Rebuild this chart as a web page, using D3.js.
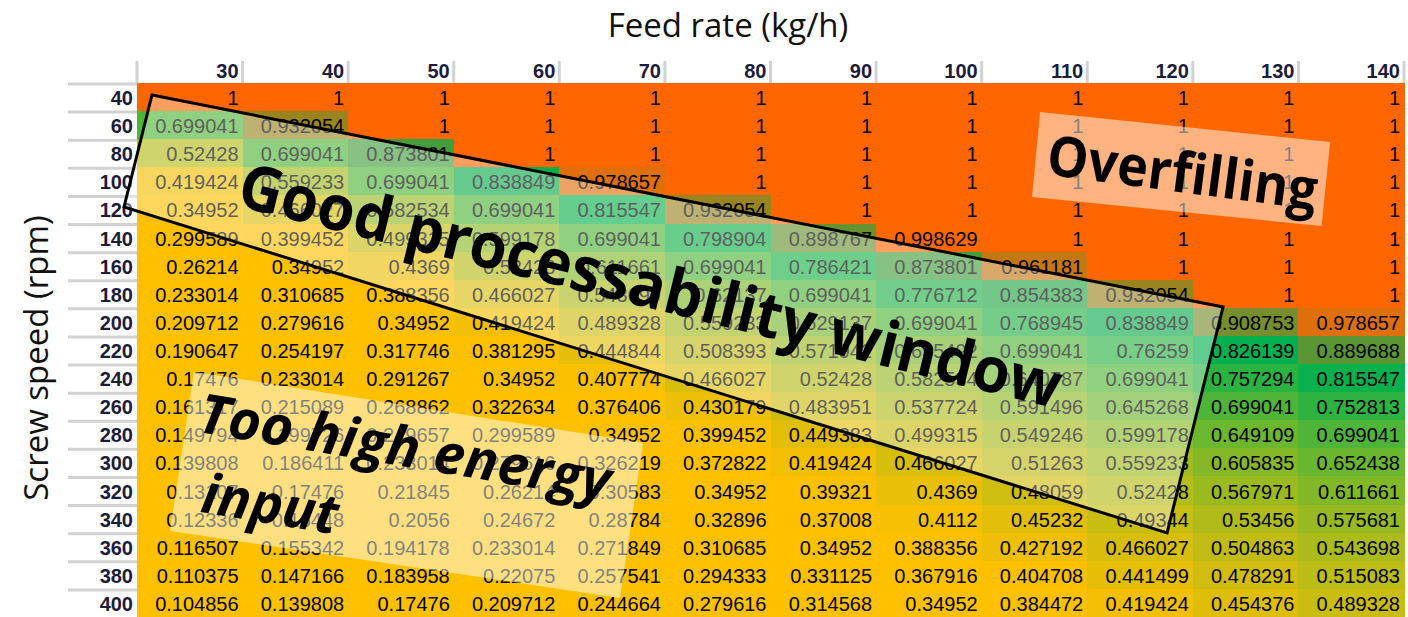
<!DOCTYPE html>
<html>
<head>
<meta charset="utf-8">
<script src="https://cdn.jsdelivr.net/npm/d3@7"></script>
<style>
  body { margin: 0; background: #fff; }
  svg { display: block; }
</style>
</head>
<body>
<div id="heatmap"></div>
<script>

// feed rate (columns) and screw speed (rows)
var feedRates = [30, 40, 50, 60, 70, 80, 90, 100, 110, 120, 130, 140];
var screwSpeeds = [40, 60, 80, 100, 120, 140, 160, 180, 200, 220, 240, 260, 280, 300, 320, 340, 360, 380, 400];

// fill degree per screw speed, one value per feed rate
var rpm40  = [1, 1, 1, 1, 1, 1, 1, 1, 1, 1, 1, 1];
var rpm60  = [0.699041, 0.932054, 1, 1, 1, 1, 1, 1, 1, 1, 1, 1];
var rpm80  = [0.52428, 0.699041, 0.873801, 1, 1, 1, 1, 1, 1, 1, 1, 1];
var rpm100 = [0.419424, 0.559233, 0.699041, 0.838849, 0.978657, 1, 1, 1, 1, 1, 1, 1];
var rpm120 = [0.34952, 0.466027, 0.582534, 0.699041, 0.815547, 0.932054, 1, 1, 1, 1, 1, 1];
var rpm140 = [0.299589, 0.399452, 0.499315, 0.599178, 0.699041, 0.798904, 0.898767, 0.998629, 1, 1, 1, 1];
var rpm160 = [0.26214, 0.34952, 0.4369, 0.52428, 0.611661, 0.699041, 0.786421, 0.873801, 0.961181, 1, 1, 1];
var rpm180 = [0.233014, 0.310685, 0.388356, 0.466027, 0.543699, 0.62137, 0.699041, 0.776712, 0.854383, 0.932054, 1, 1];
var rpm200 = [0.209712, 0.279616, 0.34952, 0.419424, 0.489328, 0.559233, 0.629137, 0.699041, 0.768945, 0.838849, 0.908753, 0.978657];
var rpm220 = [0.190647, 0.254197, 0.317746, 0.381295, 0.444844, 0.508393, 0.571942, 0.635492, 0.699041, 0.76259, 0.826139, 0.889688];
var rpm240 = [0.17476, 0.233014, 0.291267, 0.34952, 0.407774, 0.466027, 0.52428, 0.582534, 0.640787, 0.699041, 0.757294, 0.815547];
var rpm260 = [0.161317, 0.215089, 0.268862, 0.322634, 0.376406, 0.430179, 0.483951, 0.537724, 0.591496, 0.645268, 0.699041, 0.752813];
var rpm280 = [0.149794, 0.199726, 0.249657, 0.299589, 0.34952, 0.399452, 0.449383, 0.499315, 0.549246, 0.599178, 0.649109, 0.699041];
var rpm300 = [0.139808, 0.186411, 0.233014, 0.279616, 0.326219, 0.372822, 0.419424, 0.466027, 0.51263, 0.559233, 0.605835, 0.652438];
var rpm320 = [0.13107, 0.17476, 0.21845, 0.26214, 0.30583, 0.34952, 0.39321, 0.4369, 0.48059, 0.52428, 0.567971, 0.611661];
var rpm340 = [0.12336, 0.16448, 0.2056, 0.24672, 0.28784, 0.32896, 0.37008, 0.4112, 0.45232, 0.49344, 0.53456, 0.575681];
var rpm360 = [0.116507, 0.155342, 0.194178, 0.233014, 0.271849, 0.310685, 0.34952, 0.388356, 0.427192, 0.466027, 0.504863, 0.543698];
var rpm380 = [0.110375, 0.147166, 0.183958, 0.22075, 0.257541, 0.294333, 0.331125, 0.367916, 0.404708, 0.441499, 0.478291, 0.515083];
var rpm400 = [0.104856, 0.139808, 0.17476, 0.209712, 0.244664, 0.279616, 0.314568, 0.34952, 0.384472, 0.419424, 0.454376, 0.489328];

var fillDegree = [rpm40, rpm60, rpm80, rpm100, rpm120, rpm140, rpm160, rpm180, rpm200, rpm220,
                  rpm240, rpm260, rpm280, rpm300, rpm320, rpm340, rpm360, rpm380, rpm400];

// size of the picture and the table area
var width = 1408,
    height = 617,
    table = {top: 83, left: 137, right: 1404, bottom: 617};

var svg = d3.select("#heatmap").append("svg")
    .attr("width", width)
    .attr("height", height);

// band scales for the cells
var x = d3.scaleBand()
    .domain(feedRates)
    .range([table.left, table.right]);
var y = d3.scaleBand()
    .domain(screwSpeeds)
    .range([table.top, table.bottom]);

// continuous scales in column / row units, used for the annotations
var colUnit = d3.scaleLinear().domain([0, feedRates.length]).range([table.left, table.right]);
var rowUnit = d3.scaleLinear().domain([0, screwSpeeds.length]).range([table.top, table.bottom]);

// excel like three colour scale: low energy input -> good window -> overfilling
var color = d3.scaleLinear()
    .domain([0.40, 0.83, 1])
    .range(["#ffc000", "#00b050", "#ff6600"])
    .clamp(true);

// flatten into cells
var cells = [];
screwSpeeds.forEach(function(s, i) {
  feedRates.forEach(function(f, j) {
    cells.push({speed: s, feed: f, value: fillDegree[i][j]});
  });
});

// cell backgrounds
svg.append("g")
  .selectAll("rect")
    .data(cells)
  .enter().append("rect")
    .attr("x", function(d) { return x(d.feed); })
    .attr("y", function(d) { return y(d.speed); })
    .attr("width", x.bandwidth() + 0.6)
    .attr("height", y.bandwidth() + 0.6)
    .attr("fill", function(d) { return color(d.value); })
    .attr("shape-rendering", "crispEdges");

// cell values, right aligned like in a spreadsheet
svg.append("g")
  .selectAll("text")
    .data(cells)
  .enter().append("text")
    .attr("x", function(d) { return x(d.feed) + x.bandwidth() - 4; })
    .attr("y", function(d) { return y(d.speed) + y.bandwidth() / 2 + 8; })
    .attr("text-anchor", "end")
    .style("font-family", "'Liberation Sans', Arial, sans-serif")
    .style("font-size", "20px")
    .attr("fill", "#000")
    .text(function(d) { return String(d.value); });

// gray spreadsheet separators in the header row and column
var sep = svg.append("g")
    .attr("stroke", "#d2d2d2")
    .attr("stroke-width", 3);

sep.selectAll("line.col")
    .data([table.left].concat(feedRates.map(function(f) { return x(f) + x.bandwidth(); })))
  .enter().append("line")
    .attr("class", "col")
    .attr("x1", function(d) { return Math.min(d, width - 2); })
    .attr("x2", function(d) { return Math.min(d, width - 2); })
    .attr("y1", table.top - 22)
    .attr("y2", table.top);

sep.selectAll("line.row")
    .data(screwSpeeds.map(function(s) { return y(s); }))
  .enter().append("line")
    .attr("class", "row")
    .attr("x1", 68)
    .attr("x2", table.left)
    .attr("y1", function(d) { return d + 1; })
    .attr("y2", function(d) { return d + 1; });

// column headers (feed rate)
var xAxis = d3.axisTop(x).tickSize(0).tickPadding(5);
var gx = svg.append("g")
    .attr("transform", "translate(0," + table.top + ")")
    .call(xAxis);
gx.select(".domain").remove();
gx.selectAll("text")
    .attr("x", x.bandwidth() / 2 - 4)
    .attr("text-anchor", "end")
    .attr("fill", "#1c1c3a")
    .style("font-family", "'Liberation Sans', Arial, sans-serif")
    .style("font-size", "20px")
    .style("font-weight", "bold");

// row headers (screw speed)
var yAxis = d3.axisLeft(y).tickSize(0).tickPadding(4);
var gy = svg.append("g")
    .attr("transform", "translate(" + table.left + ",0)")
    .call(yAxis);
gy.select(".domain").remove();
gy.selectAll("text")
    .attr("dy", "0.4em")
    .attr("fill", "#1c1c3a")
    .style("font-family", "'Liberation Sans', Arial, sans-serif")
    .style("font-size", "20px")
    .style("font-weight", "bold");

// axis titles
svg.append("text")
    .attr("x", 728)
    .attr("y", 37)
    .attr("text-anchor", "middle")
    .style("font-family", "'Open Sans', sans-serif")
    .style("font-size", "33px")
    .attr("fill", "#111")
    .text("Feed rate (kg/h)");

svg.append("text")
    .attr("transform", "translate(48,358) rotate(-90)")
    .attr("text-anchor", "middle")
    .style("font-family", "'Open Sans', sans-serif")
    .style("font-size", "33px")
    .attr("fill", "#111")
    .text("Screw speed (rpm)");

// helper: polygon from corners in column/row units
function toPoints(corners) {
  return corners.map(function(c) { return colUnit(c[0]) + "," + rowUnit(c[1]); }).join(" ");
}

// annotation boxes
svg.append("polygon")
    .attr("points", toPoints([[8.553, 1.03], [11.30, 2.10], [11.22, 5.09], [8.477, 4.06]]))
    .attr("fill", "#fff")
    .attr("fill-opacity", 0.5);

svg.append("polygon")
    .attr("points", toPoints([[0.539, 10.27], [4.793, 12.81], [4.575, 18.32], [0.313, 15.94]]))
    .attr("fill", "#fff")
    .attr("fill-opacity", 0.5);

svg.append("polygon")
    .attr("points", toPoints([[0.142, 0.427], [10.286, 7.97], [9.756, 16.01], [-0.123, 4.41]]))
    .attr("fill", "#fff")
    .attr("fill-opacity", 0.37)
    .attr("stroke", "#000")
    .attr("stroke-width", 3);

// annotation labels
function label(text, col, row, angle, size, len, italic) {
  svg.append("text")
      .attr("transform", "translate(" + colUnit(col) + "," + rowUnit(row) + ") rotate(" + angle + ")")
      .attr("text-anchor", "middle")
      .attr("textLength", len)
      .attr("lengthAdjust", "spacingAndGlyphs")
      .style("font-family", "'Open Sans', sans-serif")
      .style("font-size", size + "px")
      .style("font-weight", "bold")
      .style("font-style", italic ? "italic" : "normal")
      .attr("fill", "#000")
      .text(text);
}

label("Good processability window", 4.812, 7.97, 13.9, 63, 845, false);
label("Overfilling", 9.878, 3.88, 7.5, 56, 272, false);
label("Too high energy", 2.51, 13.63, 9.5, 55, 416, true);
label("input", 1.231, 15.66, 9.5, 55, 137, true);

</script>
</body>
</html>
